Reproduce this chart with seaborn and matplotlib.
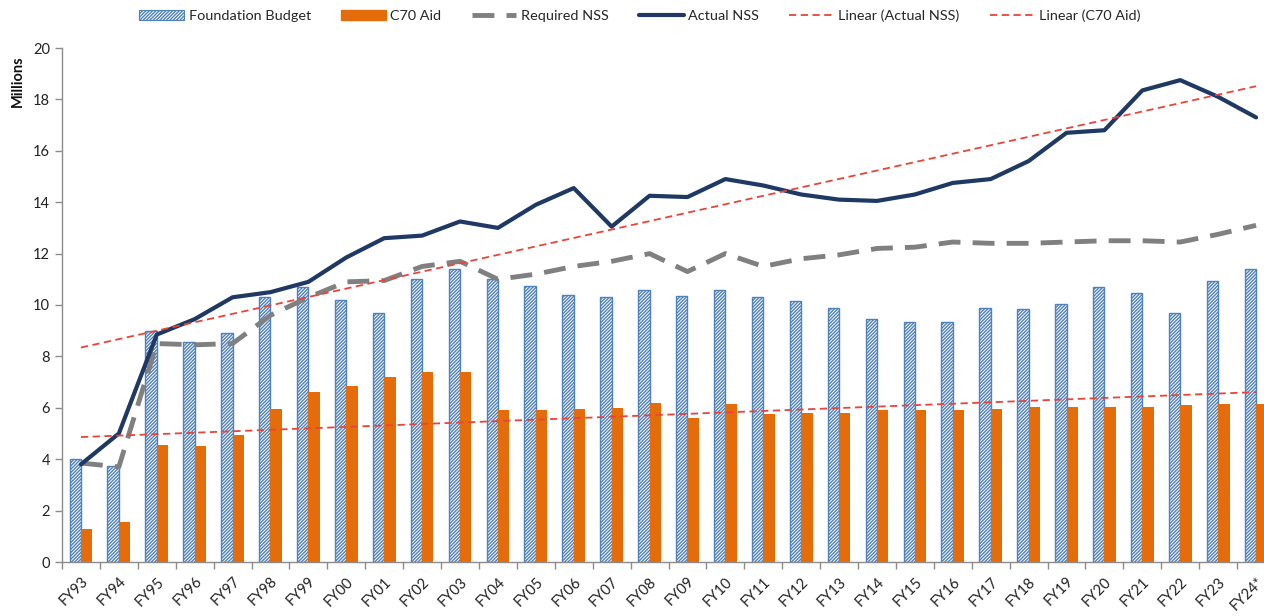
import numpy as np
import pandas as pd
import matplotlib
matplotlib.use("Agg")
import matplotlib.pyplot as plt
import seaborn as sns
from matplotlib.patches import Patch
from matplotlib.lines import Line2D

# Chart data (millions)
years = ["FY93", "FY94", "FY95", "FY96", "FY97", "FY98", "FY99", "FY00", "FY01", "FY02",
         "FY03", "FY04", "FY05", "FY06", "FY07", "FY08", "FY09", "FY10", "FY11", "FY12",
         "FY13", "FY14", "FY15", "FY16", "FY17", "FY18", "FY19", "FY20", "FY21", "FY22",
         "FY23", "FY24*"]
foundation_budget = [4.0, 3.75, 9.0, 8.55, 8.9, 10.3, 10.7, 10.2, 9.7, 11.0,
                     11.4, 11.0, 10.75, 10.4, 10.3, 10.6, 10.35, 10.6, 10.3, 10.15,
                     9.9, 9.45, 9.35, 9.35, 9.9, 9.85, 10.05, 10.7, 10.45, 9.7,
                     10.95, 11.4]
c70_aid = [1.3, 1.55, 4.55, 4.5, 4.95, 5.95, 6.6, 6.85, 7.2, 7.4,
           7.4, 5.9, 5.9, 5.95, 6.0, 6.2, 5.6, 6.15, 5.75, 5.8,
           5.8, 5.9, 5.9, 5.9, 5.95, 6.05, 6.05, 6.05, 6.05, 6.1,
           6.15, 6.15]
required_nss = [3.85, 3.7, 8.5, 8.45, 8.5, 9.6, 10.3, 10.9, 10.95, 11.5,
                11.7, 11.0, 11.2, 11.5, 11.7, 12.0, 11.3, 12.0, 11.5, 11.8,
                11.95, 12.2, 12.25, 12.45, 12.4, 12.4, 12.45, 12.5, 12.5, 12.45,
                12.75, 13.1]
actual_nss = [3.8, 5.0, 8.85, 9.45, 10.3, 10.5, 10.9, 11.85, 12.6, 12.7,
              13.25, 13.0, 13.9, 14.55, 13.05, 14.25, 14.2, 14.9, 14.65, 14.3,
              14.1, 14.05, 14.3, 14.75, 14.9, 15.6, 16.7, 16.8, 18.35, 18.75,
              18.1, 17.3]

BLUE = "#4f81bd"
ORANGE = "#e46c0a"
NAVY = "#1f3864"
GREY = "#808080"
RED = "#e8443a"
HATCH = "/" * 10

sns.set_theme(style="white")
plt.rcParams["font.family"] = ["Lato", "DejaVu Sans"]
plt.rcParams["hatch.linewidth"] = 1.0

df = pd.DataFrame({
    "year": years * 2,
    "value": foundation_budget + c70_aid,
    "series": ["Foundation Budget"] * len(years) + ["C70 Aid"] * len(years),
})

fig = plt.figure(figsize=(12.64, 6.16), dpi=100)
ax = fig.add_axes([62 / 1264, 54 / 616, 1213 / 1264, 514 / 616])

sns.barplot(data=df, x="year", y="value", hue="series",
            palette={"Foundation Budget": "white", "C70 Aid": ORANGE},
            saturation=1, width=0.6, gap=0, legend=False, ax=ax)

# hatched outline bars for the foundation budget
for bar in ax.containers[0]:
    bar.set_edgecolor(BLUE)
    bar.set_hatch(HATCH)
    bar.set_linewidth(1.0)
for bar in ax.containers[1]:
    bar.set_linewidth(0)

x = np.arange(len(years))
sns.lineplot(x=x, y=required_nss, color=GREY, lw=3.5, sort=False, ax=ax)
ax.lines[-1].set_linestyle((0, (4.5, 2.5)))
sns.lineplot(x=x, y=actual_nss, color=NAVY, lw=3, sort=False, ax=ax)

# linear trend lines
for series in (actual_nss, c70_aid):
    k, b = np.polyfit(x, series, 1)
    ax.plot(x, k * x + b, color=RED, lw=1.3, ls=(0, (4, 2.5)))

ax.set_xlim(-0.5, len(years) - 0.5)
ax.set_ylim(0, 20)
ax.set_yticks(np.arange(0, 21, 2))
ax.set_xticks(x)
ax.set_xticklabels(years, rotation=45, ha="right", va="top", rotation_mode="anchor", fontsize=10.5)
ax.set_xticks(np.arange(-0.5, len(years), 1), minor=True)
ax.tick_params(axis="x", which="major", length=0, pad=9, labelcolor="#222222")
ax.tick_params(axis="x", which="minor", length=5, width=1, color="#8c8c8c", direction="out", bottom=True)
ax.tick_params(axis="y", length=5, width=1, color="#8c8c8c", direction="out", left=True,
               labelsize=10.5, labelcolor="#222222")
ax.set_xlabel("")
ax.set_ylabel("")
for side in ("top", "right"):
    ax.spines[side].set_visible(False)
for side in ("left", "bottom"):
    ax.spines[side].set_color("#8c8c8c")
    ax.spines[side].set_linewidth(1)

fig.text(18 / 1264, 1 - 81 / 616, "Millions", rotation=90, ha="center", va="center",
         fontsize=10.5, fontweight="bold", color="#111111")

handles = [
    Patch(facecolor="white", edgecolor=BLUE, hatch=HATCH, lw=0.8),
    Patch(facecolor=ORANGE, edgecolor=ORANGE),
    Line2D([], [], color=GREY, lw=3.5, ls=(0, (4.5, 2.5))),
    Line2D([], [], color=NAVY, lw=3),
    Line2D([], [], color=RED, lw=1.3, ls=(0, (4, 2.5))),
    Line2D([], [], color=RED, lw=1.3, ls=(0, (4, 2.5))),
]
labels = ["Foundation Budget", "C70 Aid", "Required NSS", "Actual NSS",
          "Linear (Actual NSS)", "Linear (C70 Aid)"]
fig.legend(handles, labels, loc="center", bbox_to_anchor=(640 / 1264, 1 - 16 / 616),
           ncol=6, frameon=False, fontsize=10.4, handlelength=3.1, handletextpad=0.3,
           columnspacing=2.1)

fig.savefig("out.png", dpi=100)
